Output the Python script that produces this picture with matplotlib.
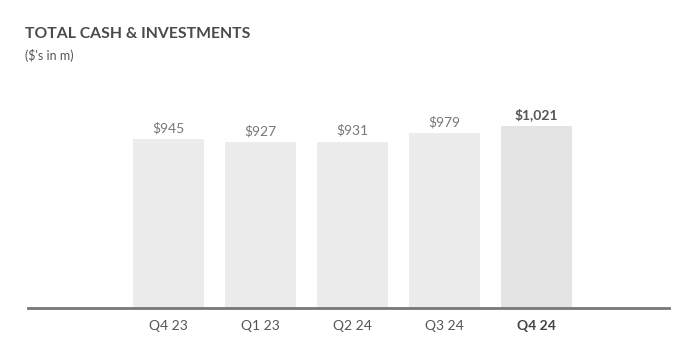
import matplotlib.pyplot as plt
import numpy as np

plt.rcParams['font.family'] = ['Lato', 'DejaVu Sans']

# chart data
quarters = ['Q4 23', 'Q1 23', 'Q2 24', 'Q3 24', 'Q4 24']
cash = [945, 927, 931, 979, 1021]
value_labels = ['$945', '$927', '$931', '$979', '$1,021']

bar_colors = ['#ececec'] * 4 + ['#e4e4e4']
x = np.arange(len(quarters))

fig = plt.figure(figsize=(6.83, 3.58), dpi=100)
# axes: left edge at 28px, right at 669px, baseline at 308px
ax = fig.add_axes([28 / 683, 1 - 308 / 358, 641 / 683, 248 / 358])

ax.bar(x, cash, width=0.77, color=bar_colors, zorder=1)
ax.set_xlim(-1.525, 5.445)
ax.set_ylim(0, 1389)

for i, (v, lab) in enumerate(zip(cash, value_labels)):
    last = i == len(cash) - 1
    ax.text(x[i], v + 28, lab, ha='center', va='bottom', fontsize=10,
            color='#555555' if last else '#777777',
            fontweight='bold' if last else 'normal')

for s in ['top', 'right', 'left']:
    ax.spines[s].set_visible(False)
ax.spines['bottom'].set_color('#777777')
ax.spines['bottom'].set_linewidth(2)
ax.spines['bottom'].set_zorder(3)

ax.set_yticks([])
ax.set_xticks(x)
ax.set_xticklabels(quarters, fontsize=10, color='#555555')
ax.tick_params(axis='x', length=0, pad=9)
ax.get_xticklabels()[-1].set_fontweight('bold')
ax.get_xticklabels()[-1].set_color('#444444')

fig.text(25 / 683, 1 - 34 / 358, 'TOTAL CASH & INVESTMENTS', fontsize=11.3,
         fontweight='bold', color='#4a4a4a', va='center')
fig.text(25 / 683, 1 - 55 / 358, "($'s in m)", fontsize=9, color='#555555',
         va='center')

fig.savefig('out.png', dpi=100, facecolor='white')
